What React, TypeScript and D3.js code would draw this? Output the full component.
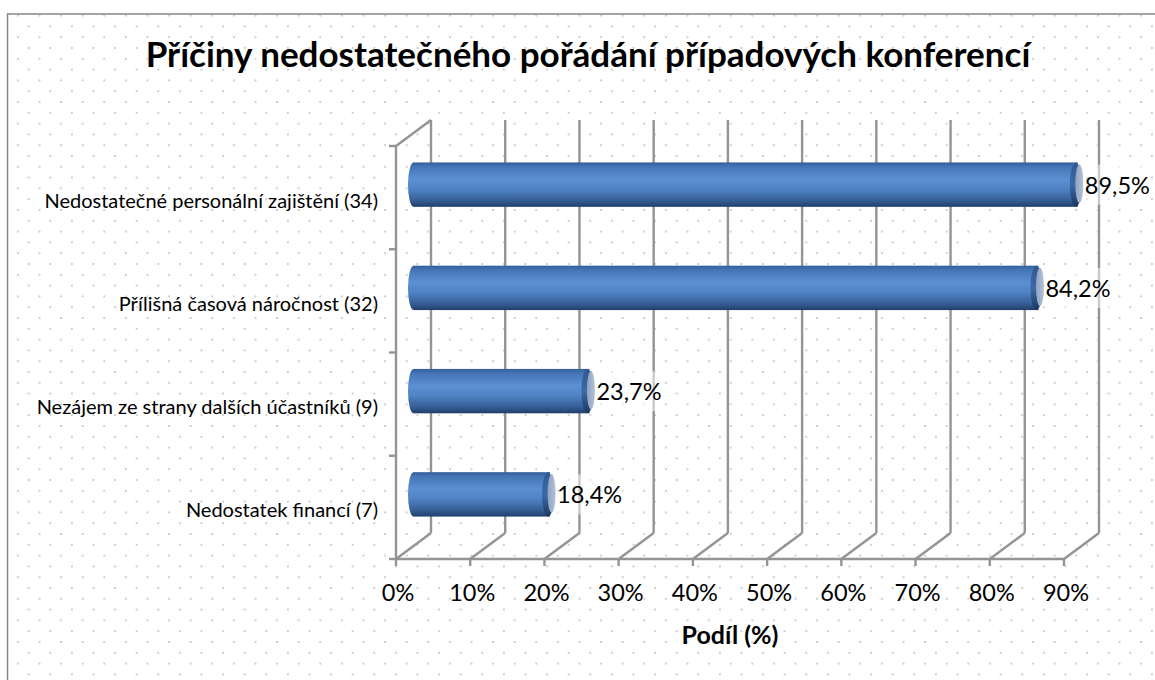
import * as d3 from "d3";

// Příčiny nedostatečného pořádání případových konferencí
const categories = [
  "Nedostatečné personální zajištění (34)",
  "Přílišná časová náročnost (32)",
  "Nezájem ze strany dalších účastníků (9)",
  "Nedostatek financí (7)",
];
const shares = [89.5, 84.2, 23.7, 18.4];
const xTicks = [0, 10, 20, 30, 40, 50, 60, 70, 80, 90];

const title = "Příčiny nedostatečného pořádání případových konferencí";
const axisTitle = "Podíl (%)";

const W = 1155;
const H = 680;
const FONT = "Lato, 'Open Sans', sans-serif";
const GRID = "#949494";

// 3d depth of the plot (back wall is shifted right/up)
const dx = 35;
const dy = -26;

const fmt = (v: number) => d3.format(".1f")(v).replace(".", ",") + "%";

function Cylinder({ x0, x1, cy, h }: { x0: number; x1: number; cy: number; h: number }) {
  const r = h / 2;
  return (
    <g>
      <rect x={x0} y={cy - r} width={x1 - x0} height={h} fill="url(#cyl)" />
      <ellipse cx={x0} cy={cy} rx={5.5} ry={r} fill="url(#cyl)" />
      <ellipse cx={x1 - 2} cy={cy} rx={6} ry={r} fill="url(#cylDark)" />
      <ellipse cx={x1 + 1.5} cy={cy - 1} rx={4} ry={r - 3} fill="url(#cylFace)" />
    </g>
  );
}

export default function App() {
  const x = d3.scaleLinear().domain([0, 90]).range([396, 1064]);
  const y = d3.scaleBand<string>().domain(categories).range([146, 559]);
  const yTop = y.range()[0];
  const yBot = y.range()[1];
  const barH = y.bandwidth() * 0.43;
  const bounds = [...categories.map((c) => y(c)!), yBot];

  return (
    <svg
      width={W}
      height={H}
      style={{ position: "absolute", left: 0, top: 0, background: "#fff" }}
      fontFamily={FONT}
    >
      <defs>
        <pattern id="dots" patternUnits="userSpaceOnUse" x={17.9 - 1} y={15.6 - 1} width={21.6} height={21.6}>
          <rect x={0} y={0} width={2} height={2} fill="#cfcfcf" />
          <rect x={10.8} y={10.8} width={2} height={2} fill="#cfcfcf" />
        </pattern>
        <linearGradient id="cyl" x1="0" y1="0" x2="0" y2="1">
          <stop offset="0" stopColor="#34609b" />
          <stop offset="0.1" stopColor="#4575b6" />
          <stop offset="0.38" stopColor="#5b90d3" />
          <stop offset="0.6" stopColor="#4f83c5" />
          <stop offset="0.85" stopColor="#375f96" />
          <stop offset="1" stopColor="#203f6b" />
        </linearGradient>
        <linearGradient id="cylDark" x1="0" y1="0" x2="0" y2="1">
          <stop offset="0" stopColor="#2f5890" />
          <stop offset="0.5" stopColor="#3c6aa6" />
          <stop offset="1" stopColor="#1c3760" />
        </linearGradient>
        <linearGradient id="cylFace" x1="0" y1="0" x2="1" y2="0">
          <stop offset="0" stopColor="#8ea3c2" />
          <stop offset="1" stopColor="#b4c1d4" />
        </linearGradient>
      </defs>

      {/* chart area */}
      <rect x={7.5} y={14} width={W} height={H} fill="url(#dots)" stroke="#878787" strokeWidth={1.5} />

      <text x={588} y={67} textAnchor="middle" fontSize={35} fontWeight="bold" fill="#000">
        {title}
      </text>

      {/* walls and floor */}
      <g stroke={GRID} strokeWidth={2.4} fill="none">
        <line x1={x(0)} y1={yTop} x2={x(0)} y2={yBot} />
        <line x1={x(0)} y1={yTop} x2={x(0) + dx} y2={yTop + dy} />
        <line x1={x(0)} y1={yBot} x2={x(90)} y2={yBot} />
        {xTicks.map((t) => (
          <g key={t}>
            <line x1={x(t)} y1={yBot} x2={x(t) + dx} y2={yBot + dy} />
            <line x1={x(t) + dx} y1={yBot + dy} x2={x(t) + dx} y2={yTop + dy} />
            <line x1={x(t)} y1={yBot} x2={x(t)} y2={yBot + 7} />
          </g>
        ))}
        {bounds.map((b, i) => (
          <line key={i} x1={x(0) - 7} y1={b} x2={x(0)} y2={b} />
        ))}
      </g>

      {/* bars */}
      {categories.map((c, i) => {
        const cy = y(c)! + y.bandwidth() / 2 + dy / 2;
        const x0 = x(0) + dx / 2;
        const x1 = x(shares[i]) + dx / 2;
        return (
          <g key={c}>
            <Cylinder x0={x0} x1={x1} cy={cy} h={barH} />
            <rect x={x1 + 6} y={cy - 20} width={66} height={40} fill="#fff" opacity={0.5} />
            <text x={x1 + 7} y={cy} dominantBaseline="central" fontSize={23.5} fill="#000">
              {fmt(shares[i])}
            </text>
          </g>
        );
      })}

      {/* category labels */}
      {categories.map((c) => (
        <text
          key={c}
          x={378}
          y={y(c)! + y.bandwidth() / 2 + 2}
          textAnchor="end"
          dominantBaseline="central"
          fontSize={20}
          fill="#000"
        >
          {c}
        </text>
      ))}

      {/* x tick labels */}
      {xTicks.map((t) => (
        <text key={t} x={x(t) + 2} y={601} textAnchor="middle" fontSize={23.5} fill="#000">
          {`${t}%`}
        </text>
      ))}

      <text x={x(45)} y={644} textAnchor="middle" fontSize={25} fontWeight="bold" fill="#000">
        {axisTitle}
      </text>
    </svg>
  );
}
